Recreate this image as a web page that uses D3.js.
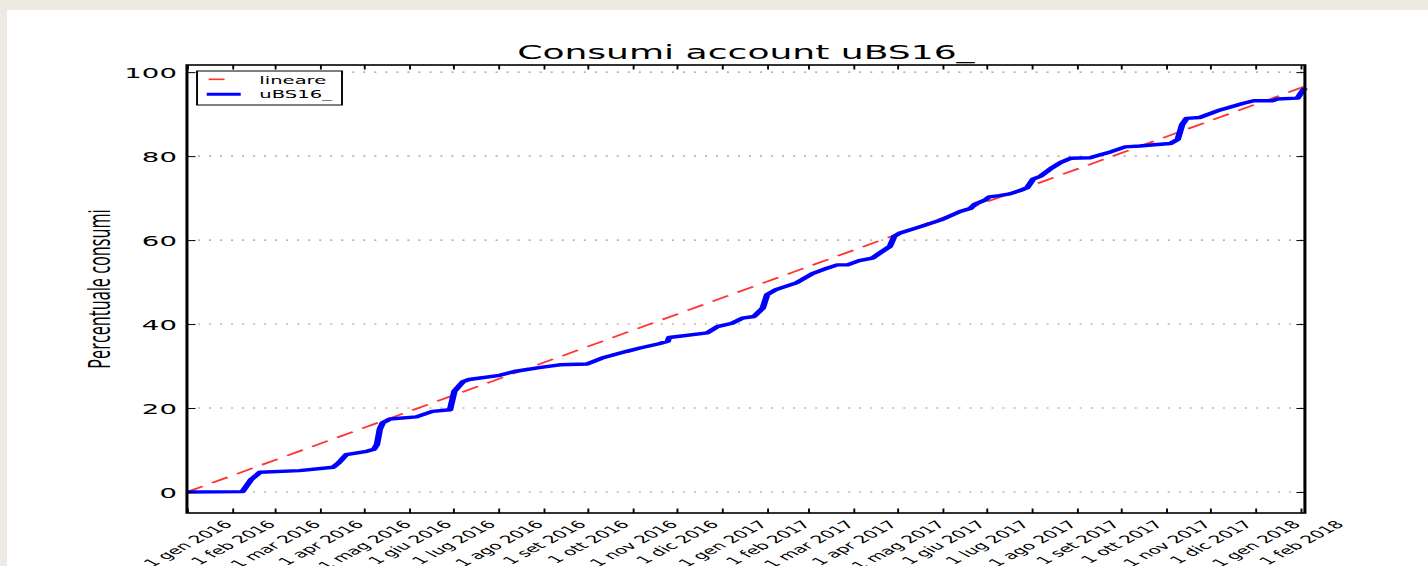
<!DOCTYPE html>
<html>
<head>
<meta charset="utf-8">
<script src="https://cdn.jsdelivr.net/npm/d3@7"></script>
<style>
    body { margin: 0; background: #edeae1; }
    svg { display: block; }
</style>
</head>
<body>
<svg id="Chart"></svg>
<script>
'use strict';

// data
let usageDates = [
    "2016-01-01", "2016-02-08", "2016-02-14", "2016-02-20", "2016-03-18", "2016-04-10",
    "2016-04-14", "2016-04-19", "2016-05-03", "2016-05-08", "2016-05-10", "2016-05-12",
    "2016-05-14", "2016-05-19", "2016-06-06", "2016-06-17", "2016-06-29", "2016-07-02",
    "2016-07-08", "2016-07-12", "2016-08-02", "2016-08-12", "2016-08-29", "2016-09-12",
    "2016-10-01", "2016-10-11", "2016-10-28", "2016-11-06", "2016-11-19", "2016-11-25",
    "2016-11-26", "2016-12-22", "2016-12-29", "2017-01-08", "2017-01-15", "2017-01-23",
    "2017-01-29", "2017-02-01", "2017-02-07", "2017-02-21", "2017-03-04", "2017-03-14",
    "2017-03-21", "2017-03-28", "2017-04-05", "2017-04-14", "2017-04-19", "2017-04-26",
    "2017-04-29", "2017-05-03", "2017-05-17", "2017-05-31", "2017-06-13", "2017-06-20",
    "2017-06-23", "2017-06-30", "2017-07-03", "2017-07-10", "2017-07-17", "2017-07-24",
    "2017-07-29", "2017-08-02", "2017-08-07", "2017-08-14", "2017-08-21", "2017-08-28",
    "2017-09-10", "2017-09-17", "2017-09-24", "2017-10-04", "2017-10-14", "2017-10-24",
    "2017-11-04", "2017-11-09", "2017-11-12", "2017-11-15", "2017-11-24", "2017-12-08",
    "2017-12-24", "2017-12-31", "2018-01-13", "2018-01-16", "2018-01-30", "2018-02-02",
    "2018-02-04"
];
let usageValues = [
    0, 0.1, 3, 4.7, 5.1, 5.9,
    7, 8.9, 9.7, 10.2, 11.3, 15,
    16.5, 17.4, 17.9, 19.2, 19.6, 24,
    26.3, 26.8, 27.8, 28.7, 29.6, 30.3,
    30.5, 31.9, 33.5, 34.3, 35.3, 35.9,
    36.8, 37.9, 39.4, 40.2, 41.4, 41.8,
    43.8, 47, 48.2, 49.8, 52, 53.3,
    54.1, 54.1, 55.1, 55.7, 56.9, 58.5,
    60.9, 61.7, 63.2, 64.8, 66.8, 67.5,
    68.5, 69.5, 70.3, 70.6, 71, 71.8,
    72.5, 74.5, 75.2, 77, 78.5, 79.5,
    79.6, 80.3, 81, 82.2, 82.4, 82.7,
    83, 84, 87.5, 89, 89.2, 91,
    92.6, 93.2, 93.2, 93.6, 93.8, 95.4,
    96.2
];
let linearDates = ["2016-01-01", "2018-02-04"];
let linearValues = [0, 96.6];

let monthLabels = ["gen", "feb", "mar", "apr", "mag", "giu", "lug", "ago", "set", "ott", "nov", "dic"];
let yTicks = [0, 20, 40, 60, 80, 100];
let seriesNames = ["lineare", "uBS16_"];

let parseDate = d3.timeParse("%Y-%m-%d");
let chartFont = "DejaVu Sans";

function getChartConfig() {
    // the source picture is stretched sideways, so the chart is drawn narrow and scaled
    let stretch = 1.9;
    let margin = { top: 65, left: 98.4 },
        width = 588.4,
        height = 448;

    let svg = d3.select("#Chart")
        .attr("width", 1428)
        .attr("height", 566);

    svg.append("rect")
        .attr("width", 1428).attr("height", 566)
        .attr("fill", "#edeae1");

    svg.append("rect")
        .attr("x", 7).attr("y", 10)
        .attr("width", 1421).attr("height", 556)
        .attr("fill", "#ffffff");

    let container = svg.append("g")
        .attr("transform", "scale(" + stretch + ",1) translate(" + margin.left + "," + margin.top + ")");

    return { width, height, container, margin };
}

function getScales(config) {
    let { width, height } = config;

    let xScale = d3.scaleTime()
        .domain([parseDate(linearDates[0]), parseDate(linearDates[1])])
        .range([0, width]);

    let yScale = d3.scaleLinear()
        .domain([-5, 101.7])
        .range([height, 0]);

    return { xScale, yScale };
}

function drawGrid(config, scales) {
    let { container, width } = config;
    let { yScale } = scales;

    container.selectAll(".grid")
        .data(yTicks)
        .enter()
        .append("line")
        .attr("class", "grid")
        .attr("x1", 0)
        .attr("x2", width)
        .attr("y1", d => yScale(d))
        .attr("y2", d => yScale(d))
        .style("stroke", "#9a9a9a")
        .style("stroke-width", 1.1)
        .style("stroke-dasharray", "1.1,4.7");
}

function drawLines(config, scales) {
    let { container } = config;
    let { xScale, yScale } = scales;

    let line = d3.line()
        .x(d => xScale(d.date))
        .y(d => yScale(d.value));

    let linear = linearDates.map((d, i) => ({ date: parseDate(d), value: linearValues[i] }));
    let usage = usageDates.map((d, i) => ({ date: parseDate(d), value: usageValues[i] }));

    container.append("path")
        .datum(linear)
        .attr("d", line)
        .attr("fill", "none")
        .attr("stroke", "#ff3535")
        .attr("stroke-width", 1.6)
        .attr("stroke-dasharray", "10,6");

    container.append("path")
        .datum(usage)
        .attr("d", line)
        .attr("fill", "none")
        .attr("stroke", "#0000ff")
        .attr("stroke-width", 3.4)
        .attr("stroke-linejoin", "round");
}

function drawAxes(config, scales) {
    let { container, width, height } = config;
    let { xScale, yScale } = scales;

    let tickDates = d3.timeMonth.range(xScale.domain()[0], xScale.domain()[1]);
    let fmt = d => "1 " + monthLabels[d.getMonth()] + " " + d.getFullYear();
    let tickFont = 10.6;

    let xAxis = d3.axisBottom(xScale)
        .tickValues(tickDates)
        .tickFormat(fmt)
        .tickSizeInner(-4.5)
        .tickSizeOuter(0);

    let gx = container.append("g")
        .attr("transform", "translate(0," + height + ")")
        .call(xAxis);
    gx.select(".domain").remove();
    gx.selectAll("line").attr("stroke-width", 1);
    gx.selectAll("text")
        .attr("font-family", chartFont)
        .attr("font-size", tickFont)
        .attr("fill", "#000")
        .attr("y", 0)
        .attr("dy", null)
        .attr("text-anchor", "middle")
        .attr("dominant-baseline", "central")
        .attr("transform", function () {
            // rotated box centred under the tick, like matplotlib rotation=45
            let len = this.getComputedTextLength();
            let half = (len + tickFont * 1.15) * Math.SQRT1_2 / 2;
            return "translate(0," + (5 + half) + ") rotate(-45)";
        });

    let gTop = container.append("g")
        .call(d3.axisTop(xScale).tickValues(tickDates).tickFormat("").tickSizeInner(-4.5).tickSizeOuter(0));
    gTop.select(".domain").remove();
    gTop.selectAll("line").attr("stroke-width", 1);

    let gy = container.append("g")
        .call(d3.axisLeft(yScale).tickValues(yTicks).tickSizeInner(-4.5).tickSizeOuter(0).tickPadding(5.3));
    gy.select(".domain").remove();
    gy.selectAll("line").attr("stroke-width", 1);
    gy.selectAll("text")
        .attr("font-family", chartFont)
        .attr("font-size", 14.5)
        .attr("fill", "#000")
        .attr("dy", "0.36em");

    let gRight = container.append("g")
        .attr("transform", "translate(" + width + ",0)")
        .call(d3.axisRight(yScale).tickValues(yTicks).tickFormat("").tickSizeInner(-4.5).tickSizeOuter(0));
    gRight.select(".domain").remove();
    gRight.selectAll("line").attr("stroke-width", 1);

    // frame
    container.append("rect")
        .attr("width", width)
        .attr("height", height)
        .attr("fill", "none")
        .attr("stroke", "#000")
        .attr("stroke-width", 1.6);

    container.append("text")
        .attr("x", width / 2)
        .attr("y", -6)
        .attr("text-anchor", "middle")
        .attr("font-family", chartFont)
        .attr("font-size", 19)
        .text("Consumi account uBS16_");

    container.append("text")
        .attr("transform", "translate(-46.6," + (height / 2) + ") rotate(-90)")
        .attr("text-anchor", "middle")
        .attr("dominant-baseline", "central")
        .attr("font-family", "Open Sans")
        .attr("font-size", 16.3)
        .text("Percentuale consumi");
}

function drawLegend(config) {
    let { container } = config;

    let legend = container.append("g")
        .attr("transform", "translate(5.3,6)");

    legend.append("rect")
        .attr("width", 76.3)
        .attr("height", 34)
        .attr("fill", "#fff")
        .attr("stroke", "#000")
        .attr("stroke-width", 1);

    let rows = [
        { name: seriesNames[0], color: "#ff3535", width: 1.6, x1: 6.1, x2: 14.5, y: 8.3 },
        { name: seriesNames[1], color: "#0000ff", width: 3, x1: 5.1, x2: 23, y: 23.3 }
    ];

    legend.selectAll(".legendLine")
        .data(rows)
        .enter()
        .append("line")
        .attr("class", "legendLine")
        .attr("x1", d => d.x1)
        .attr("x2", d => d.x2)
        .attr("y1", d => d.y)
        .attr("y2", d => d.y)
        .attr("stroke", d => d.color)
        .attr("stroke-width", d => d.width);

    legend.selectAll(".legendText")
        .data(rows)
        .enter()
        .append("text")
        .attr("class", "legendText")
        .attr("x", 32.8)
        .attr("y", d => d.y + 0.5)
        .attr("dy", "0.36em")
        .attr("font-family", chartFont)
        .attr("font-size", 10.3)
        .text(d => d.name);
}

function drawChart() {
    let config = getChartConfig();
    let scales = getScales(config);
    drawGrid(config, scales);
    drawLines(config, scales);
    drawAxes(config, scales);
    drawLegend(config);
}

drawChart();
</script>
</body>
</html>
